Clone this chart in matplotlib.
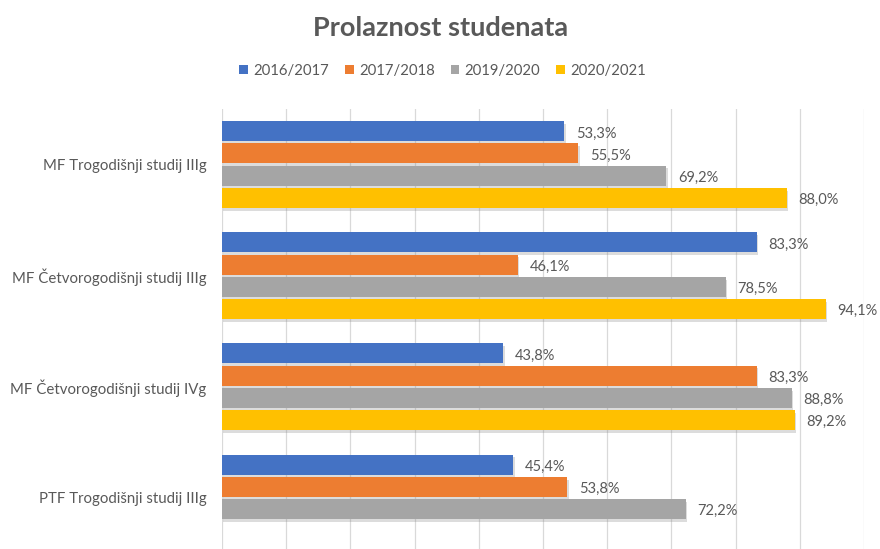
import matplotlib
matplotlib.use("Agg")
import matplotlib.pyplot as plt
import matplotlib.patheffects as pe
from matplotlib.patches import Patch
import numpy as np

plt.rcParams["font.family"] = ["Lato", "DejaVu Sans"]

CATEGORIES = [
    "MF Trogodišnji studij IIIg",
    "MF Četvorogodišnji studij IIIg",
    "MF Četvorogodišnji studij IVg",
    "PTF Trogodišnji studij IIIg",
]
SERIES = ["2016/2017", "2017/2018", "2019/2020", "2020/2021"]
V_2016 = [53.3, 83.3, 43.8, 45.4]
V_2017 = [55.5, 46.1, 83.3, 53.8]
V_2019 = [69.2, 78.5, 88.8, 72.2]
V_2020 = [88.0, 94.1, 89.2, np.nan]

COLORS = ["#4472C4", "#ED7D31", "#A5A5A5", "#FFC000"]
TEXT = "#595959"

values = [V_2016, V_2017, V_2019, V_2020]

fig = plt.figure(figsize=(8.8, 5.49), dpi=100)
ax = fig.add_axes([0.2523, 0.0, 0.7295, 0.8015])

y = np.arange(len(CATEGORIES))
offsets = [-0.3, -0.1, 0.1, 0.3]
shadow = [pe.SimplePatchShadow(offset=(1, -2), shadow_rgbFace="#8c8c8c", alpha=0.3), pe.Normal()]

for vals, off, color in zip(values, offsets, COLORS):
    vals = np.array(vals, dtype=float)
    ok = ~np.isnan(vals)
    bars = ax.barh(y[ok] + off, vals[ok], height=0.18, color=color, zorder=3)
    for b in bars:
        b.set_path_effects(shadow)
    for yy, v in zip(y[ok] + off, vals[ok]):
        ax.text(v + 1.8, yy + 0.02, f"{v:.1f}%".replace(".", ","), va="center", ha="left",
                fontsize=10.5, color=TEXT, clip_on=False)

ax.set_xlim(0, 100)
ax.set_ylim(3.46, -0.5)
ax.set_xticks(np.arange(0, 101, 10))
ax.set_xticklabels([])
ax.tick_params(axis="x", length=0)
ax.tick_params(axis="y", length=0, pad=11)
ax.set_yticks(y)
ax.set_yticklabels(CATEGORIES, fontsize=10.8, color=TEXT)
ax.grid(axis="x", color="#D9D9D9", linewidth=0.9, zorder=0)
for s in ax.spines.values():
    s.set_visible(False)

fig.text(0.501, 0.949, "Prolaznost studenata", ha="center", va="center",
         fontsize=19.5, fontweight="bold", color=TEXT)

handles = [Patch(facecolor=c, label=s) for c, s in zip(COLORS, SERIES)]
fig.legend(handles=handles, loc="center", bbox_to_anchor=(0.503, 0.871), ncol=4,
           frameon=False, fontsize=10.7, handlelength=0.6, handleheight=0.6,
           handletextpad=0.35, columnspacing=1.05, labelcolor=TEXT)

fig.savefig("out.png", dpi=100)
